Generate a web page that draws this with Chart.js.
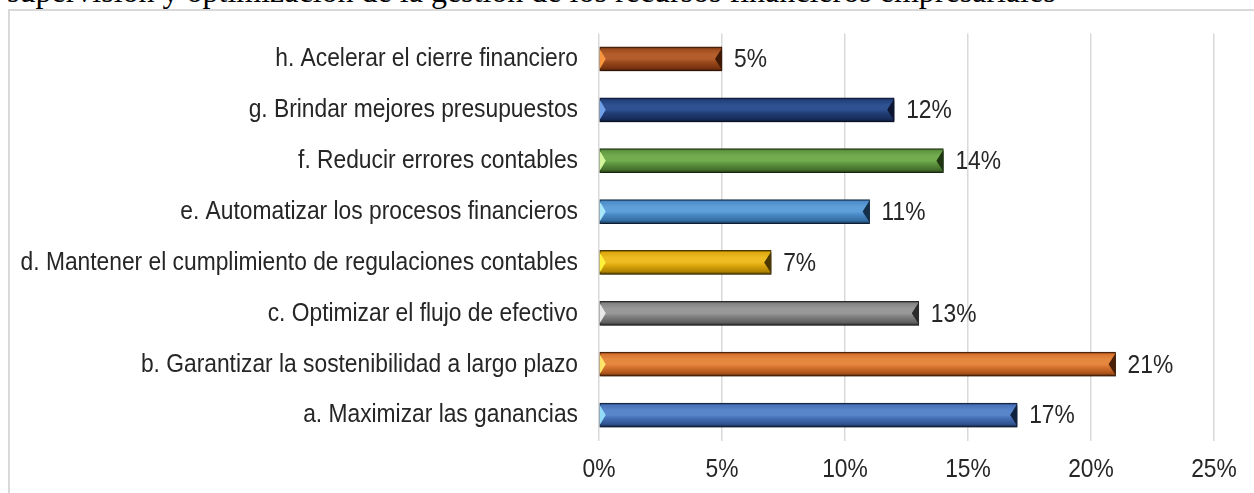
<!DOCTYPE html>
<html>
<head>
<meta charset="utf-8">
<script src="https://cdn.jsdelivr.net/npm/chart.js@4.4.1/dist/chart.umd.min.js"></script>
<style>
  html, body { margin: 0; padding: 0; background: #fff; overflow: hidden; }
  body { width: 1254px; height: 493px; position: relative; }
  #title { position: absolute; left: 7px; top: -25px; font-family: 'Liberation Serif', 'Times New Roman', serif; font-size: 32px; line-height: 32px; color: #000; white-space: nowrap; }
  #frame { position: absolute; left: 8px; top: 9px; width: 1400px; height: 600px; border-top: 2px solid #d9d9d9; border-left: 2px solid #d9d9d9; }
  #wrap { position: absolute; left: 0; top: 0; width: 1254px; height: 493px; }
</style>
</head>
<body>
<div id="title">supervisión y optimización de la gestión de los recursos financieros empresariales</div>
<div id="frame"></div>
<div id="wrap"><canvas id="c"></canvas></div>
<script>
// ---- data ----
const categories = [
  'h. Acelerar el cierre financiero',
  'g. Brindar mejores presupuestos',
  'f. Reducir errores contables',
  'e. Automatizar los procesos financieros',
  'd. Mantener el cumplimiento de regulaciones contables',
  'c. Optimizar el flujo de efectivo',
  'b. Garantizar la sostenibilidad a largo plazo',
  'a. Maximizar las ganancias'
];
const values = [5, 12, 14, 11, 7, 13, 21, 17];
const xTicks = [0, 5, 10, 15, 20, 25];

// ---- styles ----
const palette = [
  { light: '#B35E2C', main: '#9C4A1C', dark: '#7A3410', edge: '#3E1A06', tip: '#F7963E' },
  { light: '#2F5191', main: '#223F79', dark: '#182D5C', edge: '#0C1632', tip: '#6FA0E8' },
  { light: '#72AC4F', main: '#5E963F', dark: '#456F2C', edge: '#1F3612', tip: '#D4F59A' },
  { light: '#5FA0DA', main: '#4B8BC8', dark: '#346DA3', edge: '#142F4A', tip: '#A8E8FA' },
  { light: '#EDBB22', main: '#DEA80E', dark: '#B08400', edge: '#4A3800', tip: '#FFF23A' },
  { light: '#999999', main: '#828282', dark: '#606060', edge: '#2A2A2A', tip: '#E8E8E8' },
  { light: '#E5883F', main: '#D7732F', dark: '#AC541A', edge: '#4A2008', tip: '#FFE46A' },
  { light: '#5985CA', main: '#4671B8', dark: '#30528F', edge: '#10223F', tip: '#92DCF8' }
];
const BAR = 24;
const FONT = "'Liberation Sans', Arial, sans-serif";
const FSIZE = 26.5;
const SX = 0.86; // horizontal condensing (Arial Narrow look)

function condensedFill(ctx, text, x, y) {
  ctx.save();
  ctx.translate(x, y);
  ctx.scale(SX, 1);
  CanvasRenderingContext2D.prototype.fillText.call(ctx, text, 0, 0);
  ctx.restore();
}

function condenseLabels(scale) {
  if (scale._condensed) return;
  scale._condensed = true;
  const orig = scale.drawLabels;
  scale.drawLabels = function (area) {
    const ctx = this.ctx;
    ctx.fillText = function (t, x, y) { condensedFill(this, t, x, y); };
    try { orig.call(this, area); } finally { delete ctx.fillText; }
  };
}

function barGradient(c) {
  const i = c.dataIndex;
  if (i === undefined) return palette[0].main;
  const p = palette[i];
  const chart = c.chart;
  const ys = chart.scales.y;
  if (!ys) return p.main;
  const cy = ys.getPixelForValue(i);
  if (!isFinite(cy)) return p.main;
  const h = BAR / 2;
  const g = chart.ctx.createLinearGradient(0, cy - h, 0, cy + h);
  g.addColorStop(0, p.edge);
  g.addColorStop(0.08, p.main);
  g.addColorStop(0.3, p.light);
  g.addColorStop(0.5, p.light);
  g.addColorStop(0.62, p.main);
  g.addColorStop(0.88, p.dark);
  g.addColorStop(1, p.edge);
  return g;
}

const decor = {
  id: 'decor',
  beforeDatasetsDraw(chart) {
    const ctx = chart.ctx;
    ctx.save();
    ctx.shadowColor = 'rgba(0,0,0,0.35)';
    ctx.shadowOffsetY = 3;
    ctx.shadowOffsetX = 1;
    ctx.shadowBlur = 3;
  },
  afterDatasetsDraw(chart) {
    const ctx = chart.ctx;
    ctx.restore();
    const meta = chart.getDatasetMeta(0);
    ctx.save();
    meta.data.forEach((bar, i) => {
      const p = palette[i];
      const top = bar.y - bar.height / 2;
      const bot = bar.y + bar.height / 2;
      const x0 = bar.base, x1 = bar.x;
      ctx.fillStyle = p.tip;
      ctx.beginPath();
      ctx.moveTo(x0, top + 2);
      ctx.lineTo(x0 + 6, bar.y);
      ctx.lineTo(x0, bot - 2);
      ctx.closePath();
      ctx.fill();
      ctx.fillStyle = p.edge;
      ctx.beginPath();
      ctx.moveTo(x1, top + 1);
      ctx.lineTo(x1 - 7, bar.y);
      ctx.lineTo(x1, bot - 1);
      ctx.closePath();
      ctx.fill();
      ctx.fillStyle = '#262626';
      ctx.font = FSIZE + 'px ' + FONT;
      ctx.textAlign = 'left';
      ctx.textBaseline = 'middle';
      condensedFill(ctx, values[i] + '%', x1 + 12, bar.y + 1);
    });
    ctx.restore();
  }
};

new Chart(document.getElementById('c'), {
  type: 'bar',
  data: {
    labels: categories,
    datasets: [{
      data: values,
      backgroundColor: barGradient,
      borderColor: palette.map(p => p.edge),
      borderWidth: 1,
      borderSkipped: false,
      barThickness: BAR
    }]
  },
  options: {
    indexAxis: 'y',
    responsive: true,
    maintainAspectRatio: false,
    animation: false,
    layout: { padding: { top: 33.5, right: 40, left: 0, bottom: 0 } },
    plugins: { legend: { display: false }, tooltip: { enabled: false }, title: { display: false } },
    scales: {
      x: {
        min: 0, max: 25,
        afterBuildTicks(scale) { scale.ticks = xTicks.map(v => ({ value: v })); },
        afterFit(scale) { scale.height = 52.5; condenseLabels(scale); },
        grid: { color: '#d9d9d9', lineWidth: 1.5, drawTicks: false },
        border: { display: false },
        ticks: {
          padding: 13,
          color: '#262626',
          font: { family: FONT, size: FSIZE },
          callback: v => v + '%'
        }
      },
      y: {
        afterFit(scale) {
          scale.width = 599;
          scale.paddingTop = 0;
          scale.paddingBottom = 0;
          condenseLabels(scale);
        },
        grid: { display: false, drawTicks: false },
        border: { display: false },
        ticks: {
          padding: 21,
          color: '#262626',
          font: { family: FONT, size: FSIZE, lineHeight: 0.6 }
        }
      }
    }
  },
  plugins: [decor]
});
</script>
</body>
</html>
